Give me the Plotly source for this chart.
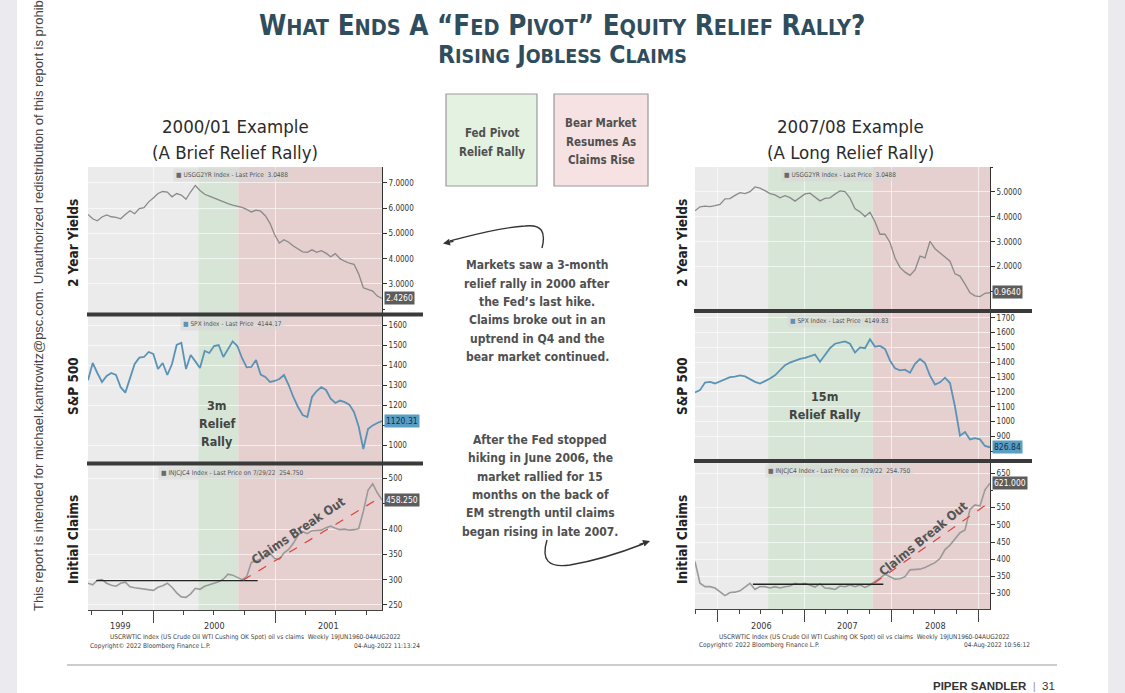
import pandas as pd
import plotly.graph_objects as go

W, H = 1125, 693
NARROW = "DejaVu Sans Condensed, Liberation Sans Narrow, Arial Narrow, sans-serif"
SANS = "Liberation Sans, Arial, sans-serif"

# ---- 2000/01 example, every two weeks
LEFT_START = "1999-06-20"
LEFT_STEP = "14D"
left_yields = [
    5.75, 5.58, 5.50, 5.65, 5.73, 5.66, 5.64, 5.58, 5.75, 5.90,
    5.78, 5.98, 6.02, 6.25, 6.40, 6.58, 6.66, 6.64, 6.45, 6.58,
    6.52, 6.35, 6.65, 6.90, 6.70, 6.55, 6.48, 6.40, 6.32, 6.25,
    6.18, 6.12, 6.08, 6.03, 5.95, 5.85, 5.92, 5.88, 5.70, 5.40,
    4.95, 4.62, 4.75, 4.65, 4.50, 4.40, 4.27, 4.25, 4.35, 4.25,
    4.32, 4.22, 4.08, 4.20, 4.00, 3.90, 3.82, 3.78, 3.40, 2.85,
    2.78, 2.72, 2.52, 2.43,
]
left_spx = [
    1324, 1410, 1360, 1315, 1345, 1360, 1350, 1289, 1262, 1340,
    1405, 1437, 1440, 1465, 1455, 1380, 1410, 1350, 1405, 1500,
    1511, 1380, 1450, 1418, 1385, 1470, 1460, 1495, 1500, 1440,
    1480, 1518, 1495, 1435, 1388, 1390, 1425, 1352, 1340, 1315,
    1320, 1330, 1350, 1300, 1240, 1190, 1150, 1140, 1240, 1270,
    1290, 1275, 1232, 1210, 1222, 1214, 1202, 1165, 1092, 980,
    1080, 1098, 1110, 1120,
]
left_claims = [
    293, 290, 299, 300, 293, 289, 287, 293, 295, 286,
    284, 283, 282, 280, 279, 285, 288, 293, 285, 274,
    266, 265, 272, 283, 281, 287, 290, 292, 296, 301,
    311, 309, 304, 300, 306, 334, 337, 341, 348, 352,
    342, 340, 353, 360, 372, 388, 395, 391, 397, 397,
    398, 403, 406, 402, 399, 400, 398, 399, 401, 435,
    477, 490, 472, 458,
]
left_phases = ["1999-06-20", "2000-05-16", "2000-09-13", "2001-11-18"]
left_base_dates = ["1999-07-15", "2000-11-10"]
left_base_vals = [298, 298]
left_trend_dates = ["2000-09-27", "2001-11-16"]
left_trend_vals = [299, 464]
left_years = [1999, 2000, 2001]
left_last = ["2.4260", "1120.31", "458.250"]
left_last_vals = [2.426, 1120.31, 458.25]
left_legend_prices = ["3.0488", "4144.17", "254.750"]

# ---- 2007/08 example, every three weeks
RIGHT_START = "2005-09-28"
RIGHT_STEP = "21D"
right_yields = [
    4.24, 4.40, 4.43, 4.41, 4.45, 4.50, 4.72, 4.73, 4.86, 4.97,
    4.93, 5.01, 5.20, 5.15, 5.05, 4.93, 4.88, 4.76, 4.85, 4.77,
    4.63, 4.78, 4.92, 4.95, 4.78, 4.64, 4.74, 4.76, 4.91, 5.04,
    5.01, 4.75, 4.32, 4.20, 4.01, 4.18, 3.80, 3.30, 3.30, 2.97,
    2.35, 1.97, 1.78, 1.65, 1.87, 2.42, 2.35, 3.02, 2.72, 2.56,
    2.40, 2.22, 1.71, 1.62, 1.30, 0.95, 0.83, 0.80, 0.93, 0.96,
]
right_spx = [
    1197, 1212, 1263, 1268, 1257, 1272, 1284, 1300, 1303, 1312,
    1305, 1285, 1268, 1256, 1272, 1290, 1312, 1348, 1380, 1398,
    1412, 1423, 1430, 1443, 1452, 1404, 1452, 1495, 1525, 1530,
    1540, 1525, 1465, 1500, 1495, 1555, 1505, 1510, 1490, 1412,
    1360, 1345, 1350, 1330, 1390, 1422, 1395, 1310, 1250, 1265,
    1296, 1260, 1100, 905, 930, 880, 888, 880, 836, 826.84,
]
right_claims = [
    393, 330, 320, 320, 316, 305, 294, 303, 304, 308,
    318, 330, 312, 320, 320, 316, 320, 316, 320, 322,
    330, 327, 330, 324, 319, 328, 316, 315, 312, 322,
    320, 325, 320, 325, 318, 325, 334, 345, 356, 349,
    342, 343, 349, 369, 369, 371, 376, 382, 390, 402,
    428, 441, 458, 477, 485, 545, 558, 555, 602, 621,
]
right_phases = ["2005-09-28", "2006-08-01", "2007-10-15", "2009-02-18"]
right_base_dates = ["2006-05-29", "2007-11-28"]
right_base_vals = [327, 327]
right_trend_dates = ["2007-10-20", "2009-02-05"]
right_trend_vals = [330, 560]
right_years = [2006, 2007, 2008]
right_last = ["0.9640", "826.84", "621.000"]
right_last_vals = [0.964, 826.84, 621.0]
right_legend_prices = ["3.0488", "4149.83", "254.750"]

legend_names = [
    "USGG2YR Index - Last Price",
    "SPX Index - Last Price",
    "INJCJC4 Index - Last Price on 7/29/22",
]
legend_swatches = ["#6a6a6a", "#5a93b5", "#6a6a6a"]


def px(x):
    return x / W


def py(y):
    return 1 - y / H


def small_caps(text, small):
    out = []
    for word in text.split(" "):
        s, seen = "", False
        for ch in word:
            if ch.isalpha() and seen:
                s += f"<span style='font-size:{small}px'>{ch.upper()}</span>"
            else:
                s += ch.upper()
                if ch.isalpha():
                    seen = True
        out.append(s)
    return " ".join(out)


fig = go.Figure()
shapes, annots = [], []

columns = [
    dict(start=LEFT_START, step=LEFT_STEP, series=[left_yields, left_spx, left_claims],
         phases=left_phases, base=(left_base_dates, left_base_vals),
         trend=(left_trend_dates, left_trend_vals), years=left_years,
         last=left_last, last_vals=left_last_vals, prices=left_legend_prices,
         xdom=(88, 382), rows=[(167, 313), (316, 462), (465, 610)],
         ranges=[[1.85, 7.63], [915, 1645], [240, 527]],
         ticks=[[3, 4, 5, 6, 7], [1000, 1200, 1300, 1400, 1500, 1600],
                [250, 300, 350, 400, 500]],
         seps=[314.5, 463.5], sep_end=423, axis_n=1),
    dict(start=RIGHT_START, step=RIGHT_STEP, series=[right_yields, right_spx, right_claims],
         phases=right_phases, base=(right_base_dates, right_base_vals),
         trend=(right_trend_dates, right_trend_vals), years=right_years,
         last=right_last, last_vals=right_last_vals, prices=right_legend_prices,
         xdom=(695, 990), rows=[(167, 309), (313, 459), (463, 609)],
         ranges=[[0.3, 6.0], [748, 1732], [255, 680]],
         ticks=[[2, 3, 4, 5], list(range(900, 1701, 100)), [300, 350, 400, 450, 500, 550, 650]],
         seps=[311, 461], sep_end=1032, axis_n=4),
]

line_styles = [
    dict(color="#8a8a8a", width=1.3),
    dict(color="#5a93b5", width=1.8),
    dict(color="#9a9a9a", width=1.6),
]
tag_styles = [
    dict(bgcolor="#5c5c5c", color="white"),
    dict(bgcolor="#5b9ec4", color="#0f2f48"),
    dict(bgcolor="#5c5c5c", color="white"),
]

layout_axes = {}
for c in columns:
    x0, x1 = c["xdom"]
    for r in range(3):
        n = c["axis_n"] + r
        xa = "xaxis" if n == 1 else f"xaxis{n}"
        ya = "yaxis" if n == 1 else f"yaxis{n}"
        xs = "x" if n == 1 else f"x{n}"
        ys = "y" if n == 1 else f"y{n}"
        top, bot = c["rows"][r]
        vals = c["series"][r]
        dates = pd.date_range(c["start"], periods=len(vals), freq=c["step"])
        fig.add_trace(go.Scatter(x=dates, y=vals, mode="lines", line=line_styles[r],
                                 xaxis=xs, yaxis=ys, hoverinfo="skip", showlegend=False))
        bottom = r == 2
        layout_axes[xa] = dict(
            domain=[px(x0), px(x1)], anchor=ys, type="date",
            range=[c["phases"][0], c["phases"][-1]],
            dtick="M12", tick0="2000-01-01", showticklabels=False,
            showgrid=True, gridcolor="rgba(255,255,255,0.6)", gridwidth=1, zeroline=False,
            ticks="outside" if bottom else "", ticklen=12, tickcolor="#444",
            showline=bottom, linecolor="#444", linewidth=1,
            minor=dict(dtick="M3", ticks="outside" if bottom else "", ticklen=4,
                       tickcolor="#444", showgrid=False),
        )
        layout_axes[ya] = dict(
            domain=[py(bot), py(top)], anchor=xs, side="right",
            range=c["ranges"][r], tickvals=c["ticks"][r], tickformat=".4f" if r == 0 else "d",
            ticks="outside", ticklen=4, tickcolor="#333",
            tickfont=dict(size=8, color="#333", family=NARROW),
            showline=True, linecolor="#333", linewidth=1,
            showgrid=True, gridcolor="rgba(255,255,255,0.6)", zeroline=False,
            minor=dict(ticks="outside", ticklen=2, tickcolor="#333", showgrid=False, nticks=2),
        )
        # last price tag
        annots.append(dict(xref=f"{xs} domain", yref=ys, x=1, y=c["last_vals"][r],
                           xanchor="left", yanchor="middle", xshift=2, showarrow=False,
                           text=c["last"][r], bgcolor=tag_styles[r]["bgcolor"],
                           font=dict(size=8.5, color=tag_styles[r]["color"], family=NARROW),
                           borderpad=1))
        # legend strip
        annots.append(dict(xref="paper", yref="paper", x=px((x0 + x1) / 2 - 3), y=py(top + 8),
                           xanchor="center", yanchor="middle", showarrow=False,
                           text=f"<span style='color:{legend_swatches[r]}'>■</span> "
                                f"{legend_names[r]}  {c['prices'][r]}",
                           bgcolor="rgba(215,215,215,0.55)", borderpad=2,
                           font=dict(size=6.5, color="#555", family=NARROW)))

    xs3 = "x" + str(c["axis_n"] + 2)
    top_p, bot_p = py(c["rows"][0][0]), py(c["rows"][2][1])
    for (a, b), fill in zip(zip(c["phases"][:-1], c["phases"][1:]),
                            ["#ebebeb", "#d7e5d6", "#e5cfcf"]):
        shapes.append(dict(type="rect", xref=xs3, yref="paper", x0=a, x1=b, y0=bot_p, y1=top_p,
                           fillcolor=fill, line=dict(width=0), layer="below"))
    for s in c["seps"]:
        shapes.append(dict(type="line", xref="paper", yref="paper", x0=px(x0 - 1),
                           x1=px(c["sep_end"]), y0=py(s), y1=py(s),
                           line=dict(color="#3a3a3a", width=4)))
    ys3 = "y" + str(c["axis_n"] + 2)
    fig.add_trace(go.Scatter(x=c["base"][0], y=c["base"][1], mode="lines",
                             line=dict(color="#222", width=1.3), xaxis=xs3, yaxis=ys3,
                             hoverinfo="skip", showlegend=False))
    fig.add_trace(go.Scatter(x=c["trend"][0], y=c["trend"][1], mode="lines",
                             line=dict(color="#e0413a", width=1.2, dash="dash"),
                             xaxis=xs3, yaxis=ys3, hoverinfo="skip", showlegend=False))
    # year labels in the middle of the visible part of each year
    s0, s1 = pd.Timestamp(c["phases"][0]), pd.Timestamp(c["phases"][-1])
    for yr in c["years"]:
        a = max(s0, pd.Timestamp(f"{yr}-01-01"))
        b = min(s1, pd.Timestamp(f"{yr + 1}-01-01"))
        annots.append(dict(xref=xs3, yref="paper", x=a + (b - a) / 2, y=py(626),
                           text=str(yr), showarrow=False, xanchor="center", yanchor="middle",
                           font=dict(size=9, color="#333", family=NARROW)))

fig.update_layout(**layout_axes)

# page furniture
shapes += [
    dict(type="rect", xref="paper", yref="paper", x0=0, x1=px(17), y0=0, y1=1,
         fillcolor="#ebebef", line=dict(width=0)),
    dict(type="rect", xref="paper", yref="paper", x0=px(1108), x1=1, y0=0, y1=1,
         fillcolor="#ebebef", line=dict(width=0)),
    dict(type="line", xref="paper", yref="paper", x0=px(67), x1=px(1057), y0=py(665), y1=py(665),
         line=dict(color="#9a9a9a", width=1)),
    dict(type="rect", xref="paper", yref="paper", x0=px(446), x1=px(537), y0=py(186), y1=py(94),
         fillcolor="#e4f2e2", line=dict(color="#9a9a9a", width=1.2)),
    dict(type="rect", xref="paper", yref="paper", x0=px(554), x1=px(648), y0=py(186), y1=py(94),
         fillcolor="#f6e2e2", line=dict(color="#9a9a9a", width=1.2)),
]


def curve(pts):
    (x0, y0), rest = pts[0], pts[1:]
    d = f"M {px(x0):.5f} {py(y0):.5f}"
    for i in range(0, len(rest), 3):
        d += " C " + " ".join(f"{px(x):.5f} {py(y):.5f}" for x, y in rest[i:i + 3])
    return d


shapes.append(dict(type="path", xref="paper", yref="paper",
                   path=curve([(542, 248), (546, 232), (542, 224), (525, 226),
                               (495, 228), (470, 236), (450, 241)]),
                   line=dict(color="#333", width=1.4)))
shapes.append(dict(type="path", xref="paper", yref="paper",
                   path=curve([(547, 540), (541, 560), (548, 568), (570, 565),
                               (600, 560), (625, 551), (643, 544)]),
                   line=dict(color="#333", width=1.4)))
annots.append(dict(xref="paper", yref="paper", x=px(443), y=py(243.5), ax=12, ay=-2.5,
                   text="", showarrow=True, arrowhead=2, arrowsize=1, arrowwidth=1.4,
                   arrowcolor="#333"))
annots.append(dict(xref="paper", yref="paper", x=px(650), y=py(541), ax=-12, ay=4,
                   text="", showarrow=True, arrowhead=2, arrowsize=1, arrowwidth=1.4,
                   arrowcolor="#333"))


def text(x, y, s, size, color="#505050", family=NARROW, bold=True, angle=0,
         xanchor="center", yanchor="middle"):
    annots.append(dict(xref="paper", yref="paper", x=px(x), y=py(y), showarrow=False,
                       text=f"<b>{s}</b>" if bold else s, textangle=angle,
                       xanchor=xanchor, yanchor=yanchor,
                       font=dict(size=size, color=color, family=family)))


def block(x, ys, lines, size, color="#505050"):
    for y, s in zip(ys, lines):
        text(x, y, s, size, color)


TITLE_C = "#2f4d5c"
text(562, 25, small_caps("What Ends A “Fed Pivot” Equity Relief Rally?", 21.5), 27.5, TITLE_C)
text(562, 55, small_caps("Rising Jobless Claims", 19.5), 24.5, TITLE_C)

text(235, 127, "2000/01 Example", 18.5, "#2b2b2b", bold=False)
text(235, 152, "(A Brief Relief Rally)", 18.5, "#2b2b2b", bold=False)
text(850, 127, "2007/08 Example", 18.5, "#2b2b2b", bold=False)
text(850, 152, "(A Long Relief Rally)", 18.5, "#2b2b2b", bold=False)

for x in (73, 682):
    text(x, 243, "2 Year Yields", 13.5, "#222", angle=-90)
    text(x, 386, "S&amp;P 500", 13.5, "#222", angle=-90)
    text(x, 540, "Initial Claims", 13.5, "#222", angle=-90)

block(492, [133, 152], ["Fed Pivot", "Relief Rally"], 11.5)
block(601, [123, 142, 160], ["Bear Market", "Resumes As", "Claims Rise"], 11.5)
block(537, [265, 283.5, 302, 320, 338.5, 357],
      ["Markets saw a 3-month", "relief rally in 2000 after", "the Fed’s last hike.",
       "Claims broke out in an", "uptrend in Q4 and the", "bear market continued."], 12)
block(540, [440, 458, 477, 495, 513, 532],
      ["After the Fed stopped", "hiking in June 2006, the", "market rallied for 15",
       "months on the back of", "EM strength until claims", "began rising in late 2007."], 12)

block(217, [405, 423, 441], ["3m", "Relief", "Rally"], 12.5, "#444")
block(825, [396, 414], ["15m", "Relief Rally"], 12.5, "#444")
text(298, 530, "Claims Break Out", 12.5, "#555", angle=-34)
text(923, 538, "Claims Break Out", 12.5, "#555", angle=-39)

src = "USCRWTIC Index (US Crude Oil WTI Cushing OK Spot) oil vs claims  Weekly 19JUN1960-04AUG2022"
text(255, 637, src, 6.5, "#444", bold=False)
text(88, 646, "Copyright© 2022 Bloomberg Finance L.P.", 6.5, "#444", bold=False, xanchor="left")
text(422, 646, "04-Aug-2022 11:13:24", 6.5, "#444", bold=False, xanchor="right")
text(864, 637, src, 6.5, "#444", bold=False)
text(697, 645, "Copyright© 2022 Bloomberg Finance L.P.", 6.5, "#444", bold=False, xanchor="left")
text(1032, 645, "04-Aug-2022 10:56:12", 6.5, "#444", bold=False, xanchor="right")

text(38, 294, "This report is intended for michael.kantrowitz@psc.com. Unauthorized "
     "redistribution of this report is prohibited.", 13, "#444", family=SANS,
     bold=False, angle=-90)
text(1057, 686, "<b>PIPER SANDLER</b>  <span style='color:#999'>|</span>  31", 11.5, "#333",
     family=SANS, bold=False, xanchor="right")

fig.update_layout(
    width=W, height=H, margin=dict(l=0, r=0, t=0, b=0),
    paper_bgcolor="white", plot_bgcolor="rgba(0,0,0,0)",
    shapes=shapes, annotations=annots, hovermode=False, showlegend=False,
    font=dict(family=NARROW),
)
fig.write_html("out.html", config={"displayModeBar": False},
               post_script="document.body.style.margin='0px';")
